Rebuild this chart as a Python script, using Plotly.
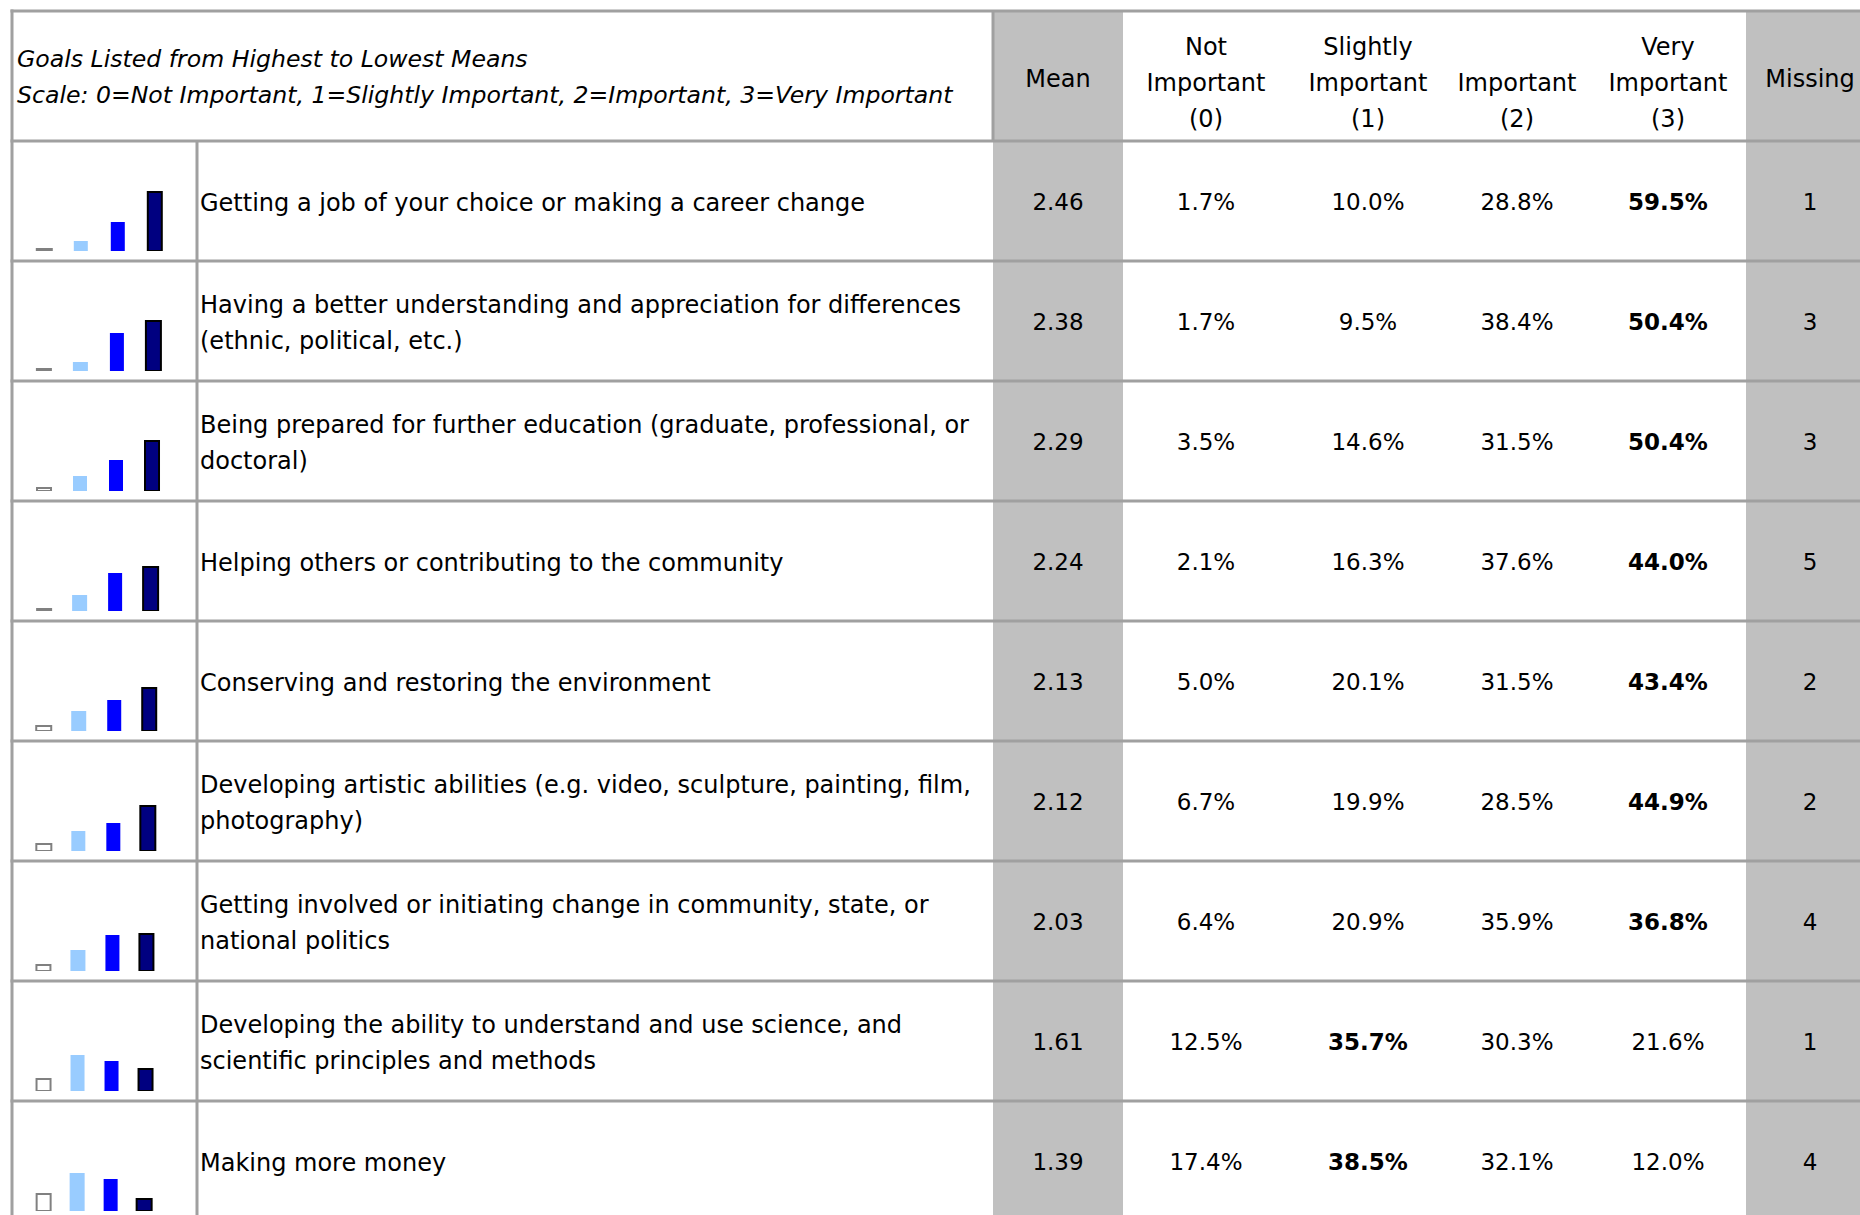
import plotly.graph_objects as go

# ---------------- data ----------------
goal_lines = [
    ["Getting a job of your choice or making a career change"],
    ["Having a better understanding and appreciation for differences", "(ethnic, political, etc.)"],
    ["Being prepared for further education (graduate, professional, or", "doctoral)"],
    ["Helping others or contributing to the community"],
    ["Conserving and restoring the environment"],
    ["Developing artistic abilities (e.g. video, sculpture, painting, film,", "photography)"],
    ["Getting involved or initiating change in community, state, or", "national politics"],
    ["Developing the ability to understand and use science, and", "scientific principles and methods"],
    ["Making more money"],
]
means = [2.46, 2.38, 2.29, 2.24, 2.13, 2.12, 2.03, 1.61, 1.39]
not_important = [1.7, 1.7, 3.5, 2.1, 5.0, 6.7, 6.4, 12.5, 17.4]
slightly_important = [10.0, 9.5, 14.6, 16.3, 20.1, 19.9, 20.9, 35.7, 38.5]
important = [28.8, 38.4, 31.5, 37.6, 31.5, 28.5, 35.9, 30.3, 32.1]
very_important = [59.5, 50.4, 50.4, 44.0, 43.4, 44.9, 36.8, 21.6, 12.0]
missing = [1, 3, 3, 5, 2, 2, 4, 1, 4]

header_note = ["Goals Listed from Highest to Lowest Means",
               "Scale: 0=Not Important, 1=Slightly Important, 2=Important, 3=Very Important"]
col_headers = [["Mean"], ["Not", "Important", "(0)"], ["Slightly", "Important", "(1)"],
               ["Important", "(2)"], ["Very", "Important", "(3)"], ["Missing"]]

bar_fill = ["#FFFFFF", "#99CCFF", "#0000FF", "#000080"]
bar_line = ["#808080", "#99CCFF", "#0000FF", "#000000"]
bar_line_w = [2, 0, 0, 2]

# ---------------- layout constants (pixels) ----------------
W, H = 1860, 1215
TOP, HEAD_BOT, ROW_H = 11, 141, 120
X_LEFT, X_MINI, X_MEAN_L, X_MEAN_R, X_MISS_L = 12, 197, 993, 1123, 1746
X_LABEL = 200
COL_X = [1058, 1206, 1368, 1517, 1668, 1810]
GRID = "#A0A0A0"
GREYFILL = "#C0C0C0"
FONT = "DejaVu Sans"
FS = 24
FSI = 23.6
FSN = 23
DY = 3.5  # vertical text nudge

n = len(means)
row_top = [HEAD_BOT + ROW_H * i for i in range(n)]
row_mid = [t + ROW_H / 2 + DY for t in row_top]

fig = go.Figure()

# ---------------- text: header ----------------
hx, hy, ht = [], [], []
for j, lines in enumerate(header_note):
    hx.append(17); hy.append(58 + 36 * j + DY); ht.append("<i>" + lines + "</i>")
fig.add_trace(go.Scatter(x=hx, y=hy, text=ht, mode="text", textposition="middle right",
                         textfont=dict(family=FONT, size=FSI, color="black"),
                         hoverinfo="skip", showlegend=False))

cx, cy, ct = [], [], []
for c, lines in enumerate(col_headers):
    k = len(lines)
    if k == 1:
        ys = [77]
    elif k == 2:
        ys = [81, 117]
    else:
        ys = [45, 81, 117]
    for y, s in zip(ys, lines):
        cx.append(COL_X[c]); cy.append(y + DY); ct.append(s)
fig.add_trace(go.Scatter(x=cx, y=cy, text=ct, mode="text", textposition="middle center",
                         textfont=dict(family=FONT, size=FS, color="black"),
                         hoverinfo="skip", showlegend=False))

# ---------------- text: goal labels ----------------
lx, ly, lt = [], [], []
for i, lines in enumerate(goal_lines):
    if len(lines) == 1:
        offs = [0]
    else:
        offs = [-18, 18]
    for o, s in zip(offs, lines):
        lx.append(X_LABEL); ly.append(row_mid[i] + o); lt.append(s)
fig.add_trace(go.Scatter(x=lx, y=ly, text=lt, mode="text", textposition="middle right",
                         textfont=dict(family=FONT, size=FS, color="black"),
                         hoverinfo="skip", showlegend=False))

# ---------------- text: numeric cells ----------------
nx, ny, nt = [], [], []
for i in range(n):
    pct = [not_important[i], slightly_important[i], important[i], very_important[i]]
    mx = max(pct)
    nx.append(COL_X[0]); ny.append(row_mid[i]); nt.append(f"{means[i]:.2f}")
    for k, v in enumerate(pct):
        s = f"{v:.1f}%"
        if v == mx:
            s = "<b>" + s + "</b>"
        nx.append(COL_X[1 + k]); ny.append(row_mid[i]); nt.append(s)
    nx.append(COL_X[5]); ny.append(row_mid[i]); nt.append(str(missing[i]))
fig.add_trace(go.Scatter(x=nx, y=ny, text=nt, mode="text", textposition="middle center",
                         textfont=dict(family=FONT, size=FSN, color="black"),
                         hoverinfo="skip", showlegend=False))

# ---------------- mini bar charts ----------------
layout_axes = {}
for i in range(n):
    pct = [not_important[i], slightly_important[i], important[i], very_important[i]]
    s = 36.8 - 0.41 * i
    c0 = 44.2 - 0.1 * i
    px0, px1 = c0 - s / 2, c0 + 3.5 * s
    py0 = row_top[i] + ROW_H - 10
    py1 = py0 - 100
    ax = i + 2
    fig.add_trace(go.Bar(
        x=[0, 1, 2, 3], y=pct, width=14.5 / s,
        marker=dict(color=bar_fill, line=dict(color=bar_line, width=bar_line_w)),
        xaxis=f"x{ax}", yaxis=f"y{ax}", hoverinfo="skip", showlegend=False))
    layout_axes[f"xaxis{ax}"] = dict(domain=[px0 / W, px1 / W], range=[-0.5, 3.5], visible=False,
                                     fixedrange=True, anchor=f"y{ax}")
    layout_axes[f"yaxis{ax}"] = dict(domain=[1 - py0 / H, 1 - py1 / H], range=[0, 100], visible=False,
                                     fixedrange=True, anchor=f"x{ax}")

# ---------------- grid shapes ----------------
shapes = []
for x0, x1 in [(X_MEAN_L, X_MEAN_R), (X_MISS_L, W + 20)]:
    shapes.append(dict(type="rect", xref="x", yref="y", x0=x0, x1=x1, y0=TOP, y1=H + 20,
                       fillcolor=GREYFILL, line=dict(width=0), layer="below"))
hlines = [TOP] + row_top
for y in hlines:
    shapes.append(dict(type="line", xref="x", yref="y", x0=X_LEFT - 1.5, x1=W + 20, y0=y, y1=y,
                       line=dict(color=GRID, width=3)))
shapes.append(dict(type="line", xref="x", yref="y", x0=X_LEFT, x1=X_LEFT, y0=TOP - 1.5, y1=H + 20,
                   line=dict(color=GRID, width=3)))
shapes.append(dict(type="line", xref="x", yref="y", x0=X_MINI, x1=X_MINI, y0=HEAD_BOT, y1=H + 20,
                   line=dict(color=GRID, width=3)))
shapes.append(dict(type="line", xref="x", yref="y", x0=X_MEAN_L, x1=X_MEAN_L, y0=TOP, y1=HEAD_BOT,
                   line=dict(color=GRID, width=3)))

fig.update_layout(
    width=W, height=H, margin=dict(l=0, r=0, t=0, b=0),
    paper_bgcolor="white", plot_bgcolor="rgba(0,0,0,0)",
    xaxis=dict(range=[0, W], domain=[0, 1], visible=False, fixedrange=True),
    yaxis=dict(range=[H, 0], domain=[0, 1], visible=False, fixedrange=True),
    shapes=shapes, showlegend=False, bargap=0,
    **layout_axes,
)

fig.write_html("out.html", config={"displayModeBar": False},
               post_script="document.body.style.margin='0';document.body.style.overflow='hidden';")
